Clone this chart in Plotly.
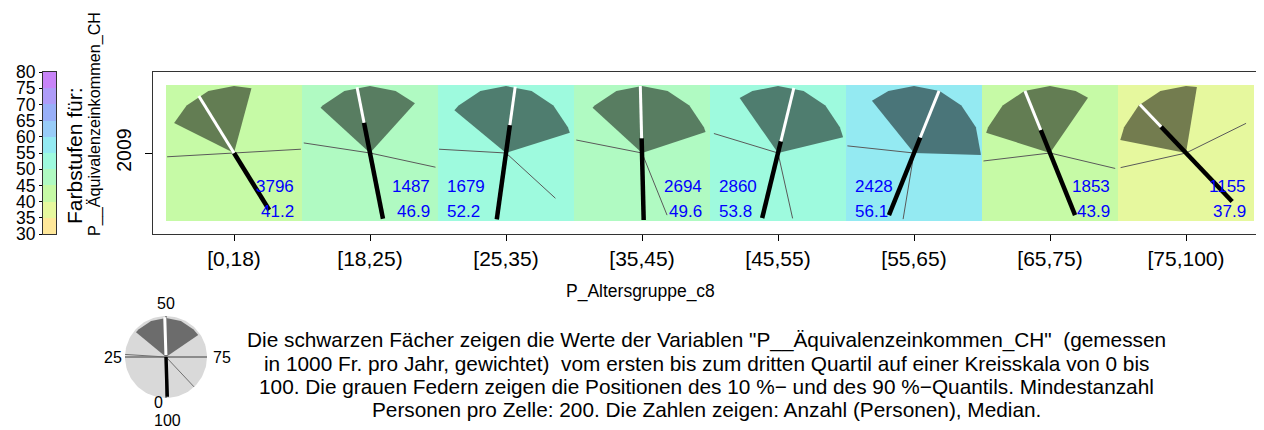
import numpy as np
import plotly.graph_objects as go

# ---------------- data ----------------
age_groups = ["[0,18)", "[18,25)", "[25,35)", "[35,45)", "[45,55)", "[55,65)", "[65,75)", "[75,100)"]
years = ["2009"]
counts = [3796, 1487, 1679, 2694, 2860, 2428, 1853, 1155]
medians = [41.2, 46.9, 52.2, 49.6, 53.8, 56.1, 43.9, 37.9]
q1 = [32.4, 36.8, 36.0, 36.8, 40.3, 39.2, 29.9, 28.1]
q3 = [54.2, 61.7, 70.1, 69.9, 71.2, 75.5, 59.6, 52.6]
p10 = [24.1, 27.4, 25.9, 28.1, 29.7, 26.7, 23.1, 21.5]
p90 = [74.1, 78.4, 86.8, 93.9, 96.5, 102.6, 78.7, 67.7]
needle_inner = [0.0, 0.46, 0.42, 0.22, 0.18, 0.25, 0.37, 0.54]

legend_breaks = [30, 35, 40, 45, 50, 55, 60, 65, 70, 75, 80]
legend_colors = ["#FFE89A", "#E6F89E", "#C6FAA6", "#B0FAC2", "#9EFADE",
                 "#94EAF2", "#98CCF8", "#98AFF8", "#AE9CF8", "#C884F8"]

# explanatory mini-fan
demo_q = [36.0, 65.5]
demo_median = 49.5
demo_p = [26.0, 88.0]
demo_scale = [0, 25, 50, 75]
demo_labels = {"50": (166, 303.5), "25": (113, 357), "75": (222, 357), "0": (158, 402), "100": (167.5, 420)}

note_lines = [
    'Die schwarzen Fächer zeigen die Werte der Variablen "P__Äquivalenzeinkommen_CH"\u00a0 (gemessen',
    'in 1000 Fr. pro Jahr, gewichtet)\u00a0 vom ersten bis zum dritten Quartil auf einer Kreisskala von 0 bis',
    '100. Die grauen Federn zeigen die Positionen des 10 %\u2212 und des 90 %\u2212Quantils. Mindestanzahl',
    'Personen pro Zelle: 200. Die Zahlen zeigen: Anzahl (Personen), Median.',
]

# ---------------- layout helpers ----------------
OFF = 8                      # page margin around the plot div
W, H = 1264 - OFF, 430 - OFF
FONT = "Liberation Sans, Arial, sans-serif"


def fx(p):
    return (p - OFF) / W


def fy(p):
    return 1 - (p - OFF) / H


PX = 136.0           # pixels per cell (data unit) in main panel
R = 67.0 / PX        # fan radius in data units


def direction(v):
    a = 2 * np.pi * v / 100.0
    return -np.sin(a), -np.cos(a)


def fan_poly(cx, cy, a, b, r, step=6.25):
    vals = [a] + [g for g in np.arange(np.ceil(a / step) * step, b, step) if a < g < b] + [b]
    xs = [cx] + [cx + r * direction(v)[0] for v in vals] + [cx]
    ys = [cy] + [cy + r * direction(v)[1] for v in vals] + [cy]
    return xs, ys


def seg(cx, cy, v, r0, r1):
    dx, dy = direction(v)
    return [cx + r0 * dx, cx + r1 * dx, None], [cy + r0 * dy, cy + r1 * dy, None]


n = len(legend_colors)
colorscale = []
for i, c in enumerate(legend_colors):
    colorscale.append([i / n, c])
    colorscale.append([(i + 1) / n, c])

fig = go.Figure()

# cell backgrounds coloured by median
fig.add_trace(go.Heatmap(
    x=list(range(len(age_groups))), y=[0], z=[medians],
    zmin=legend_breaks[0], zmax=legend_breaks[-1], colorscale=colorscale,
    showscale=False, hoverinfo="skip", xaxis="x", yaxis="y"))

# fans (Q1..Q3)
for i in range(len(age_groups)):
    xs, ys = fan_poly(i, 0, q1[i], q3[i], R)
    fig.add_trace(go.Scatter(x=xs, y=ys, mode="lines", fill="toself",
                             fillcolor="rgba(0,0,0,0.5)", line=dict(width=0),
                             hoverinfo="skip", showlegend=False, xaxis="x", yaxis="y"))

# feathers (p10, p90)
fxs, fys = [], []
for i in range(len(age_groups)):
    for v in (p10[i], p90[i]):
        a, b = seg(i, 0, v, 0, R)
        fxs += a
        fys += b
fig.add_trace(go.Scatter(x=fxs, y=fys, mode="lines", line=dict(color="#5a5a5a", width=1),
                         hoverinfo="skip", showlegend=False, xaxis="x", yaxis="y"))

# needles
bx, by, wx, wy = [], [], [], []
for i in range(len(age_groups)):
    a, b = seg(i, 0, medians[i], -R, needle_inner[i] * R)
    bx += a
    by += b
    a, b = seg(i, 0, medians[i], needle_inner[i] * R, R)
    wx += a
    wy += b
fig.add_trace(go.Scatter(x=bx, y=by, mode="lines", line=dict(color="black", width=4.5),
                         hoverinfo="skip", showlegend=False, xaxis="x", yaxis="y"))
fig.add_trace(go.Scatter(x=wx, y=wy, mode="lines", line=dict(color="white", width=3),
                         hoverinfo="skip", showlegend=False, xaxis="x", yaxis="y"))

annotations = []
# numbers in cells
for i in range(len(age_groups)):
    if medians[i] < 50:
        xa, anc = i + 0.5 - 6.0 / PX, "right"
    else:
        xa, anc = i - 0.5 + 7.0 / PX, "left"
    for txt, yv in ((str(counts[i]), -33.5 / PX), (f"{medians[i]:.1f}", -58.5 / PX)):
        annotations.append(dict(x=xa, y=yv, xref="x", yref="y", text=txt, showarrow=False,
                                xanchor=anc, yanchor="middle",
                                font=dict(family=FONT, size=17, color="#0000FF")))

# colour legend bar
mids = [(legend_breaks[k] + legend_breaks[k + 1]) / 2 for k in range(n)]
fig.add_trace(go.Heatmap(x=[0], y=mids, z=[[m] for m in mids],
                         zmin=legend_breaks[0], zmax=legend_breaks[-1], colorscale=colorscale,
                         showscale=False, hoverinfo="skip", xaxis="x2", yaxis="y2"))

# demo circle
t = np.linspace(0, 100, 121)
cx_ = [direction(v)[0] for v in t]
cy_ = [direction(v)[1] for v in t]
fig.add_trace(go.Scatter(x=cx_, y=cy_, mode="lines", fill="toself", fillcolor="#D9D9D9",
                         line=dict(width=0), hoverinfo="skip", showlegend=False,
                         xaxis="x3", yaxis="y3"))
xs, ys = fan_poly(0, 0, demo_q[0], demo_q[1], 0.95)
fig.add_trace(go.Scatter(x=xs, y=ys, mode="lines", fill="toself", fillcolor="rgba(0,0,0,0.5)",
                         line=dict(width=0), hoverinfo="skip", showlegend=False,
                         xaxis="x3", yaxis="y3"))
sx, sy = [], []
for v in demo_scale:
    a, b = seg(0, 0, v, 0, 1.0)
    sx += a
    sy += b
fig.add_trace(go.Scatter(x=sx, y=sy, mode="lines", line=dict(color="#707070", width=1.5),
                         hoverinfo="skip", showlegend=False, xaxis="x3", yaxis="y3"))
px_, py_ = [], []
for v in demo_p:
    a, b = seg(0, 0, v, 0, 1.0)
    px_ += a
    py_ += b
fig.add_trace(go.Scatter(x=px_, y=py_, mode="lines", line=dict(color="#707070", width=1),
                         hoverinfo="skip", showlegend=False, xaxis="x3", yaxis="y3"))
a, b = seg(0, 0, demo_median, -0.97, 0.0)
fig.add_trace(go.Scatter(x=a, y=b, mode="lines", line=dict(color="black", width=3.5),
                         hoverinfo="skip", showlegend=False, xaxis="x3", yaxis="y3"))
a, b = seg(0, 0, demo_median, 0.05, 0.97)
fig.add_trace(go.Scatter(x=a, y=b, mode="lines", line=dict(color="white", width=3),
                         hoverinfo="skip", showlegend=False, xaxis="x3", yaxis="y3"))

for txt, (x0, y0) in demo_labels.items():
    annotations.append(dict(x=fx(x0), y=fy(y0), xref="paper", yref="paper", text=txt,
                            showarrow=False, xanchor="center", yanchor="middle",
                            font=dict(family=FONT, size=16, color="black")))

# texts
annotations.append(dict(x=fx(640), y=fy(291), xref="paper", yref="paper", text="P_Altersgruppe_c8",
                        showarrow=False, xanchor="center", yanchor="middle",
                        font=dict(family=FONT, size=17.5, color="black")))
annotations.append(dict(x=fx(95), y=fy(124), xref="paper", yref="paper",
                        text="P__Äquivalenzeinkommen_CH", textangle=-90,
                        showarrow=False, xanchor="center", yanchor="middle",
                        font=dict(family=FONT, size=16.2, color="black")))
annotations.append(dict(x=fx(74), y=fy(156), xref="paper", yref="paper",
                        text="Farbstufen für:", textangle=-90,
                        showarrow=False, xanchor="center", yanchor="middle",
                        font=dict(family=FONT, size=21, color="black")))
for k, line in enumerate(note_lines):
    annotations.append(dict(x=fx(706), y=fy(340 + 23 * k), xref="paper", yref="paper", text=line,
                            showarrow=False, xanchor="center", yanchor="middle",
                            font=dict(family=FONT, size=20.8, color="black")))

common = dict(showgrid=False, zeroline=False, automargin=False, fixedrange=True)
fig.update_layout(
    width=W, height=H, autosize=False,
    margin=dict(l=0, r=0, t=0, b=0, pad=0),
    paper_bgcolor="white", plot_bgcolor="white",
    showlegend=False, hovermode=False,
    font=dict(family=FONT, size=17, color="black"),
    annotations=annotations,
    xaxis=dict(domain=[fx(153), 1.0], range=[-0.5 - 13 / PX, -0.5 + (1264 - 166) / PX],
               tickmode="array", tickvals=list(range(len(age_groups))), ticktext=age_groups,
               ticks="outside", ticklen=6, tickcolor="black",
               showline=True, mirror=True, linecolor="#333333", linewidth=1,
               tickfont=dict(family=FONT, size=21, color="black"), **common),
    yaxis=dict(domain=[fy(234), fy(72)], range=[-81 / PX, 81 / PX],
               tickmode="array", tickvals=[0], ticktext=years, tickangle=-90,
               ticks="outside", ticklen=7, tickcolor="black", ticklabelstandoff=6,
               showline=True, mirror=False, linecolor="#333333", linewidth=1,
               tickfont=dict(family=FONT, size=19.5, color="black"), **common),
    xaxis2=dict(domain=[fx(43), fx(56)], range=[-0.5, 0.5], showticklabels=False, ticks="",
                showline=True, mirror=True, linecolor="#333333", anchor="y2", **common),
    yaxis2=dict(domain=[fy(234), fy(72)], range=[30, 80], tickmode="array", tickvals=legend_breaks,
                ticks="outside", ticklen=3, tickcolor="black",
                showline=True, mirror=True, linecolor="#333333", anchor="x2",
                tickfont=dict(family=FONT, size=17.5, color="black"), **common),
    xaxis3=dict(domain=[fx(116), fx(216)], range=[-50 / 41, 50 / 41], visible=False,
                anchor="y3", **common),
    yaxis3=dict(domain=[fy(407), fy(307)], range=[-50 / 41, 50 / 41], visible=False,
                anchor="x3", **common),
)

fig.write_html("out.html")
